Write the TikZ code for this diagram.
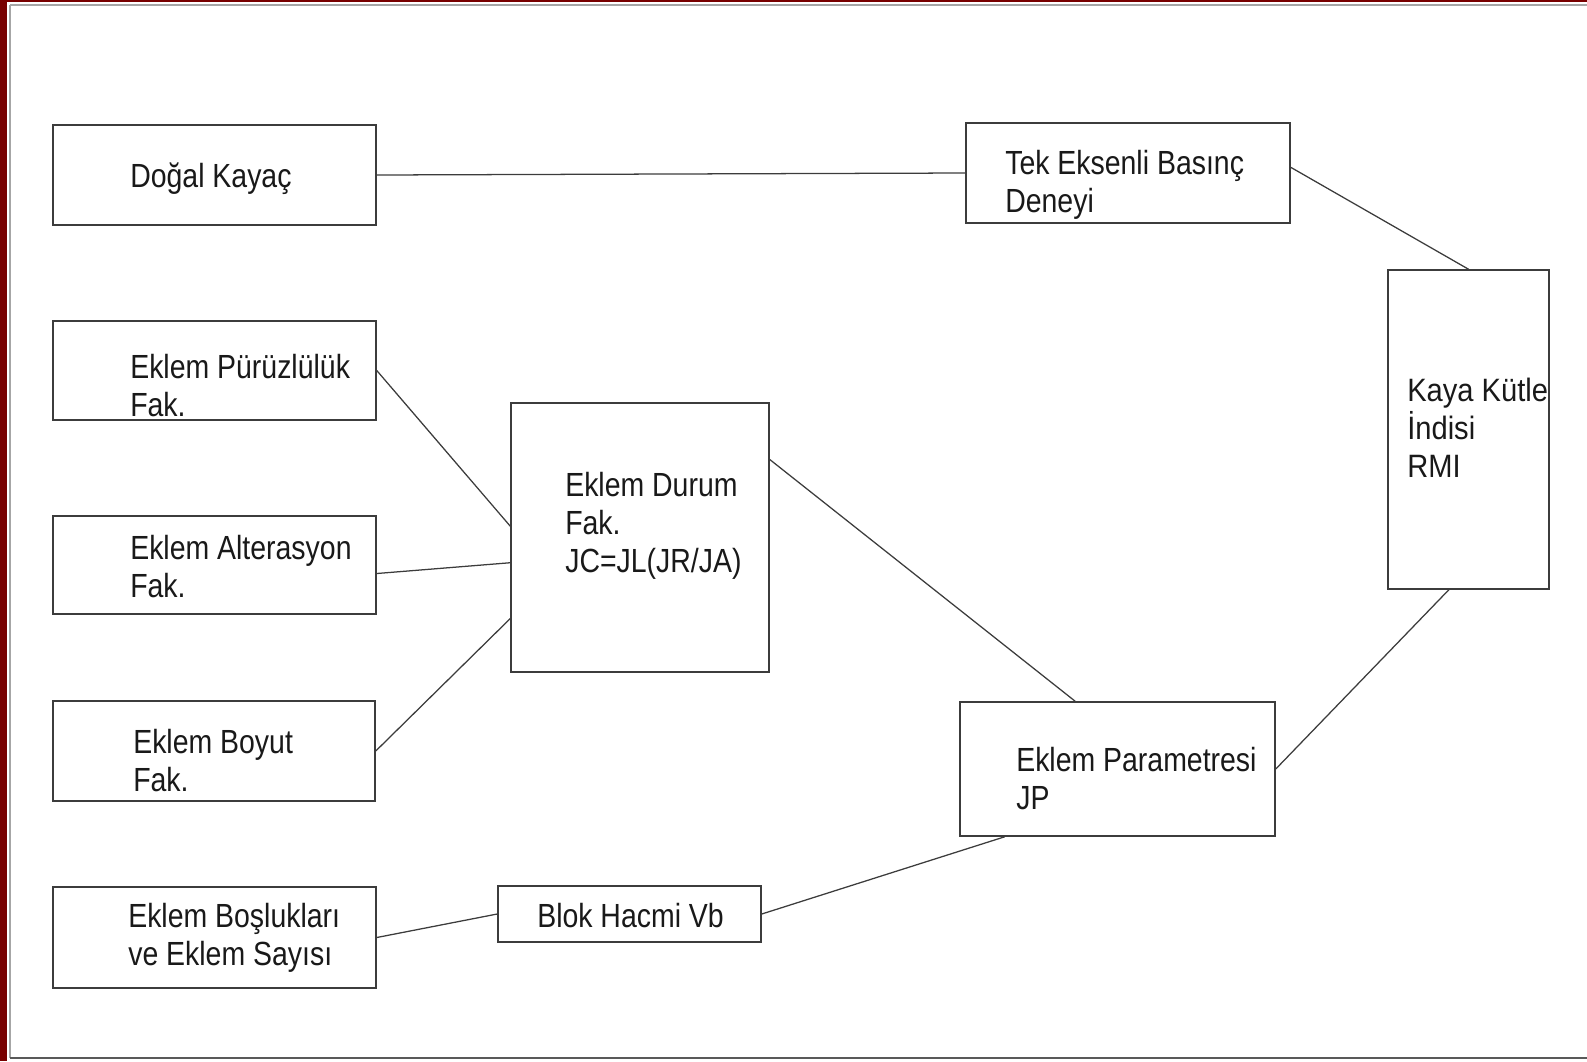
\documentclass[tikz,border=0pt]{standalone}
\usepackage{fontspec}
\setmainfont{Liberation Sans}[FakeStretch=0.85]
\definecolor{cerceve}{RGB}{120,0,0}
\definecolor{cizgi}{RGB}{60,60,60}

\tikzset{
		kutu/.style 2 args={
			draw=cizgi, line width=1.1pt, rectangle, inner sep=0pt,
			minimum width=#1*0.025cm, minimum height=#2*0.025cm
		},
		yazi/.style={
			anchor=base west, inner sep=0pt, align=left, text=black!90,
			font=\fontsize{23.8}{26.7}\selectfont
		},
		baglanti/.style={draw=cizgi, line width=0.9pt}
	}

\begin{document}
\begin{tikzpicture}[x=0.025cm, y=-0.025cm]
				\useasboundingbox (0,0) rectangle (1587,1061);
				% cerceve
				\fill[cerceve] (0,0) rectangle (7,1061);
				\fill[cerceve] (0,0) rectangle (1587,2);
				\draw[gray!70, line width=1.2pt] (10,5) -- (1587,5);
				\draw[gray!70, line width=1.2pt] (10,5) -- (10,1058);
				\draw[black!65, line width=1.8pt] (10,1058) -- (1587,1058);

				% kutular
				\node[kutu={323}{100}] (dogal) at (214.5,175) {};
				\node[kutu={324}{100}] (tek) at (1128,173) {};
				\node[kutu={161}{319}] (rmi) at (1468.5,429.5) {};
				\node[kutu={323}{99}] (puruz) at (214.5,370.5) {};
				\node[kutu={323}{98}] (alter) at (214.5,565) {};
				\node[kutu={322}{100}] (boyut) at (214,751) {};
				\node[kutu={323}{101}] (bosluk) at (214.5,937.5) {};
				\node[kutu={258}{269}] (durum) at (640,537.5) {};
				\node[kutu={263}{56}] (blok) at (629.5,914) {};
				\node[kutu={315}{134}] (jp) at (1117.5,769) {};

				% yazilar (son satirin taban cizgisi)
				\node[yazi] (dogal-t) at (130,187) {Doğal Kayaç};
				\node[yazi] (tek-t) at (1005,212.5) {Tek Eksenli Basınç\\Deneyi};
				\node[yazi, font=\fontsize{23}{27}\selectfont\addfontfeature{FakeStretch=0.9}] (rmi-t) at (1407,477) {Kaya Kütle\\İndisi\\RMI};
				\node[yazi] (puruz-t) at (130,416.5) {Eklem Pürüzlülük\\Fak.};
				\node[yazi] (alter-t) at (130,597.5) {Eklem Alterasyon\\Fak.};
				\node[yazi] (boyut-t) at (133,791.5) {Eklem Boyut\\Fak.};
				\node[yazi] (bosluk-t) at (128,965.5) {Eklem Boşlukları\\ve Eklem Sayısı};
				\node[yazi] (durum-t) at (565,572) {Eklem Durum\\Fak.\\JC=JL(JR/JA)};
				\node[yazi] (blok-t) at (537,927) {Blok Hacmi Vb};
				\node[yazi] (jp-t) at (1016,809.5) {Eklem Parametresi\\JP};

				% baglantilar
				\draw[baglanti] (dogal.east) -- (tek.west);
				\draw[baglanti] (tek.2.5) -- (rmi.north);
				\draw[baglanti] (puruz.east) -- (durum.175);
				\draw[baglanti] (alter.-3.5) -- (durum.191);
				\draw[baglanti] (boyut.east) -- (durum.212);
				\draw[baglanti] (durum.31.6) -- (jp.122);
				\draw[baglanti] (rmi.263) -- (jp.east);
				\draw[baglanti] (bosluk.east) -- (blok.west);
				\draw[baglanti] (blok.east) -- (jp.211);
			\end{tikzpicture}
\end{document}
